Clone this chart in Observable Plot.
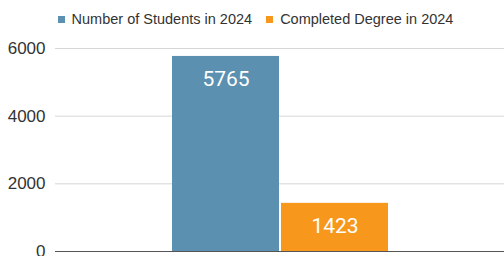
<!DOCTYPE html>
<html>
<head>
<meta charset="utf-8">
<script src="https://cdn.jsdelivr.net/npm/d3@7"></script>
<script src="https://cdn.jsdelivr.net/npm/@observablehq/plot@0.6"></script>
<style>
  html, body { margin: 0; padding: 0; background: #fff; }
  #legend { height: 30px; display: flex; justify-content: center; align-items: center; gap: 14px;
    font-family: "Liberation Sans", Arial, sans-serif; font-size: 14.5px; color: #333; padding-top: 8px; box-sizing: border-box; padding-left: 7px; }
  #legend span.sw { display: inline-block; width: 7px; height: 7px; margin-right: 7px; vertical-align: middle; position: relative; top: -1px; }
</style>
</head>
<body>
<div id="legend"></div>
<div id="chart"></div>
<script>
const series = ["Number of Students in 2024", "Completed Degree in 2024"];
const values = [5765, 1423];
const colors = ["#5b90b0", "#f7981d"];
const yTicks = [0, 2000, 4000, 6000];

const data = series.map((s, i) => ({series: s, value: values[i]}));

const legend = document.getElementById("legend");
series.forEach((s, i) => {
  const item = document.createElement("div");
  item.innerHTML = `<span class="sw" style="background:${colors[i]}"></span>${s}`;
  legend.appendChild(item);
});

const chart = Plot.plot({
  width: 504,
  height: 226,
  marginTop: 18,
  marginBottom: 5,
  marginLeft: 55,
  marginRight: 0,
  style: {fontFamily: "'Liberation Sans', Arial, sans-serif", background: "#fff"},
  x: {domain: series, paddingInner: 0.02, paddingOuter: 1.06, axis: null},
  y: {domain: [0, 6000], ticks: yTicks, label: null},
  color: {domain: series, range: colors},
  marks: [
    Plot.gridY(yTicks.filter(d => d > 0), {stroke: "#d6d6d6", strokeOpacity: 1}),
    Plot.axisY(yTicks, {tickSize: 0, tickPadding: 10, fontSize: 17, fill: "#333", label: null, tickFormat: d => String(d)}),
    Plot.barY(data, {x: "series", y: "value", fill: "series"}),
    Plot.ruleY([0], {stroke: "#555", strokeWidth: 1}),
    Plot.text(data, {x: "series", y: "value", text: d => String(d.value), dy: 23, fill: "white",
      fontSize: 21, fontFamily: "Roboto, sans-serif"})
  ]
});
document.getElementById("chart").appendChild(chart);
</script>
</body>
</html>
